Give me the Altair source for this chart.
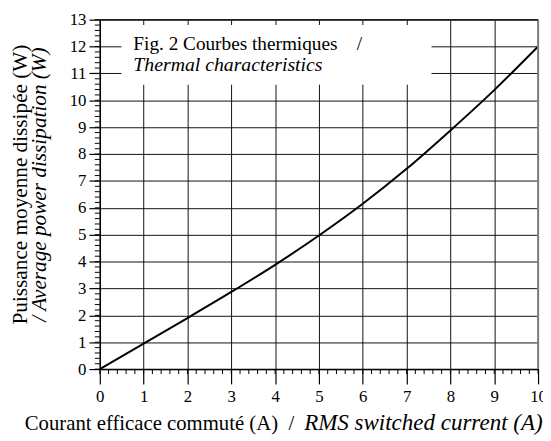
import altair as alt
import pandas as pd

# ---- data ----
current = [0, 1, 2, 3, 4, 5, 6, 7, 8, 9, 10]
power = [0, 0.95, 1.9, 2.87, 3.88, 4.97, 6.15, 7.45, 8.88, 10.38, 12.0]
x_ticks = [0, 1, 2, 3, 4, 5, 6, 7, 8, 9, 10]
y_ticks = [0, 1, 2, 3, 4, 5, 6, 7, 8, 9, 10, 11, 12, 13]
x_minor = [round(i * 0.2, 1) for i in range(51)]
y_minor = [round(i * 0.2, 1) for i in range(66)]

box_line1 = "Fig. 2 Courbes thermiques\u00a0\u00a0\u00a0\u00a0/"
box_line2 = "Thermal characteristics"
x_title_fr = "Courant efficace commuté (A)\u00a0\u00a0/"
x_title_en = "RMS switched current (A)"
y_title_fr = "Puissance moyenne dissipée (W)"
y_title_en = "/ Average power dissipation (W)"

FONT = "Liberation Serif"
W, H = 444, 354

xscale = alt.Scale(domain=[0, 10], nice=False, zero=False)
yscale = alt.Scale(domain=[0, 13], nice=False, zero=False)

df = pd.DataFrame({"current": current, "power": power})

xaxis = alt.Axis(values=x_ticks, tickSize=15, labelPadding=5, grid=True,
                 gridColor="#111", gridWidth=1, gridOpacity=1,
                 domainColor="black", domainWidth=1.5, tickColor="black",
                 tickWidth=1.2, labelFont=FONT, labelFontSize=17,
                 labelColor="black", labelFlush=False, labelOverlap=False,
                 title=None, format="d")
yaxis = alt.Axis(values=y_ticks, tickSize=11, labelPadding=3, grid=True,
                 gridColor="#111", gridWidth=1, gridOpacity=1,
                 domainColor="black", domainWidth=1.5, tickColor="black",
                 tickWidth=1.2, labelFont=FONT, labelFontSize=17,
                 labelColor="black", labelFlush=False, labelOverlap=False,
                 title=None, format="d")

X = lambda f: alt.X(f, scale=xscale, axis=xaxis)
Y = lambda f: alt.Y(f, scale=yscale, axis=yaxis)

line = alt.Chart(df).mark_line(color="black", strokeWidth=2,
                               interpolate="monotone").encode(
    x=X("current:Q"), y=Y("power:Q"),
)

# white box behind the caption (covers grid)
box = alt.Chart(pd.DataFrame({"k": [0]})).mark_rect(color="white").encode(
    x=alt.value(22), x2=alt.value(336), y=alt.value(5.5), y2=alt.value(66)
)

right_border = alt.Chart(pd.DataFrame({"v": [10]})).mark_rule(
    color="#808080", strokeWidth=2).encode(
    x=X("v:Q"), y=alt.value(0), y2=alt.value(H),
)

top_border = alt.Chart(pd.DataFrame({"v": [13]})).mark_rule(
    color="#222", strokeWidth=1.5).encode(
    y=Y("v:Q"), x=alt.value(0), x2=alt.value(W),
)

minor_x = alt.Chart(pd.DataFrame({"v": x_minor})).mark_rule(
    color="black", strokeWidth=1).encode(
    x=X("v:Q"), y=alt.value(H), y2=alt.value(H + 5),
)

minor_y = alt.Chart(pd.DataFrame({"v": y_minor})).mark_rule(
    color="black", strokeWidth=1).encode(
    y=Y("v:Q"), x=alt.value(-5), x2=alt.value(0),
)


def label(text, x, y, size, style="normal", align="left", angle=0):
    kw = dict(text=text, font=FONT, fontSize=size, fontStyle=style,
              align=align, baseline="alphabetic", color="black")
    if angle:
        kw["angle"] = angle
    return alt.Chart(pd.DataFrame({"k": [0]})).mark_text(**kw).encode(
        x=alt.value(x), y=alt.value(y))


t1 = label(box_line1, 34, 31, 19.5)
t2 = label(box_line2, 34, 52, 20, style="italic")
t3 = label(x_title_fr, -76, 416, 21)
t4 = label(x_title_en, 207, 416, 23.3, style="italic")
t5 = label(y_title_fr, -74, 167, 21.5, align="center", angle=270)
t6 = label(y_title_en, -54, 167, 21.5, style="italic", align="center", angle=270)

chart = alt.layer(
    line, box, right_border, top_border, minor_x, minor_y,
    t1, t2, t3, t4, t5, t6,
).properties(
    width=W, height=H, background="white",
    autosize=alt.AutoSizeParams(type="none"),
    padding={"left": 93, "top": 9, "right": 5, "bottom": 69},
).configure_view(stroke=None)

chart.save("out.html", embed_options={"renderer": "svg", "actions": False})
